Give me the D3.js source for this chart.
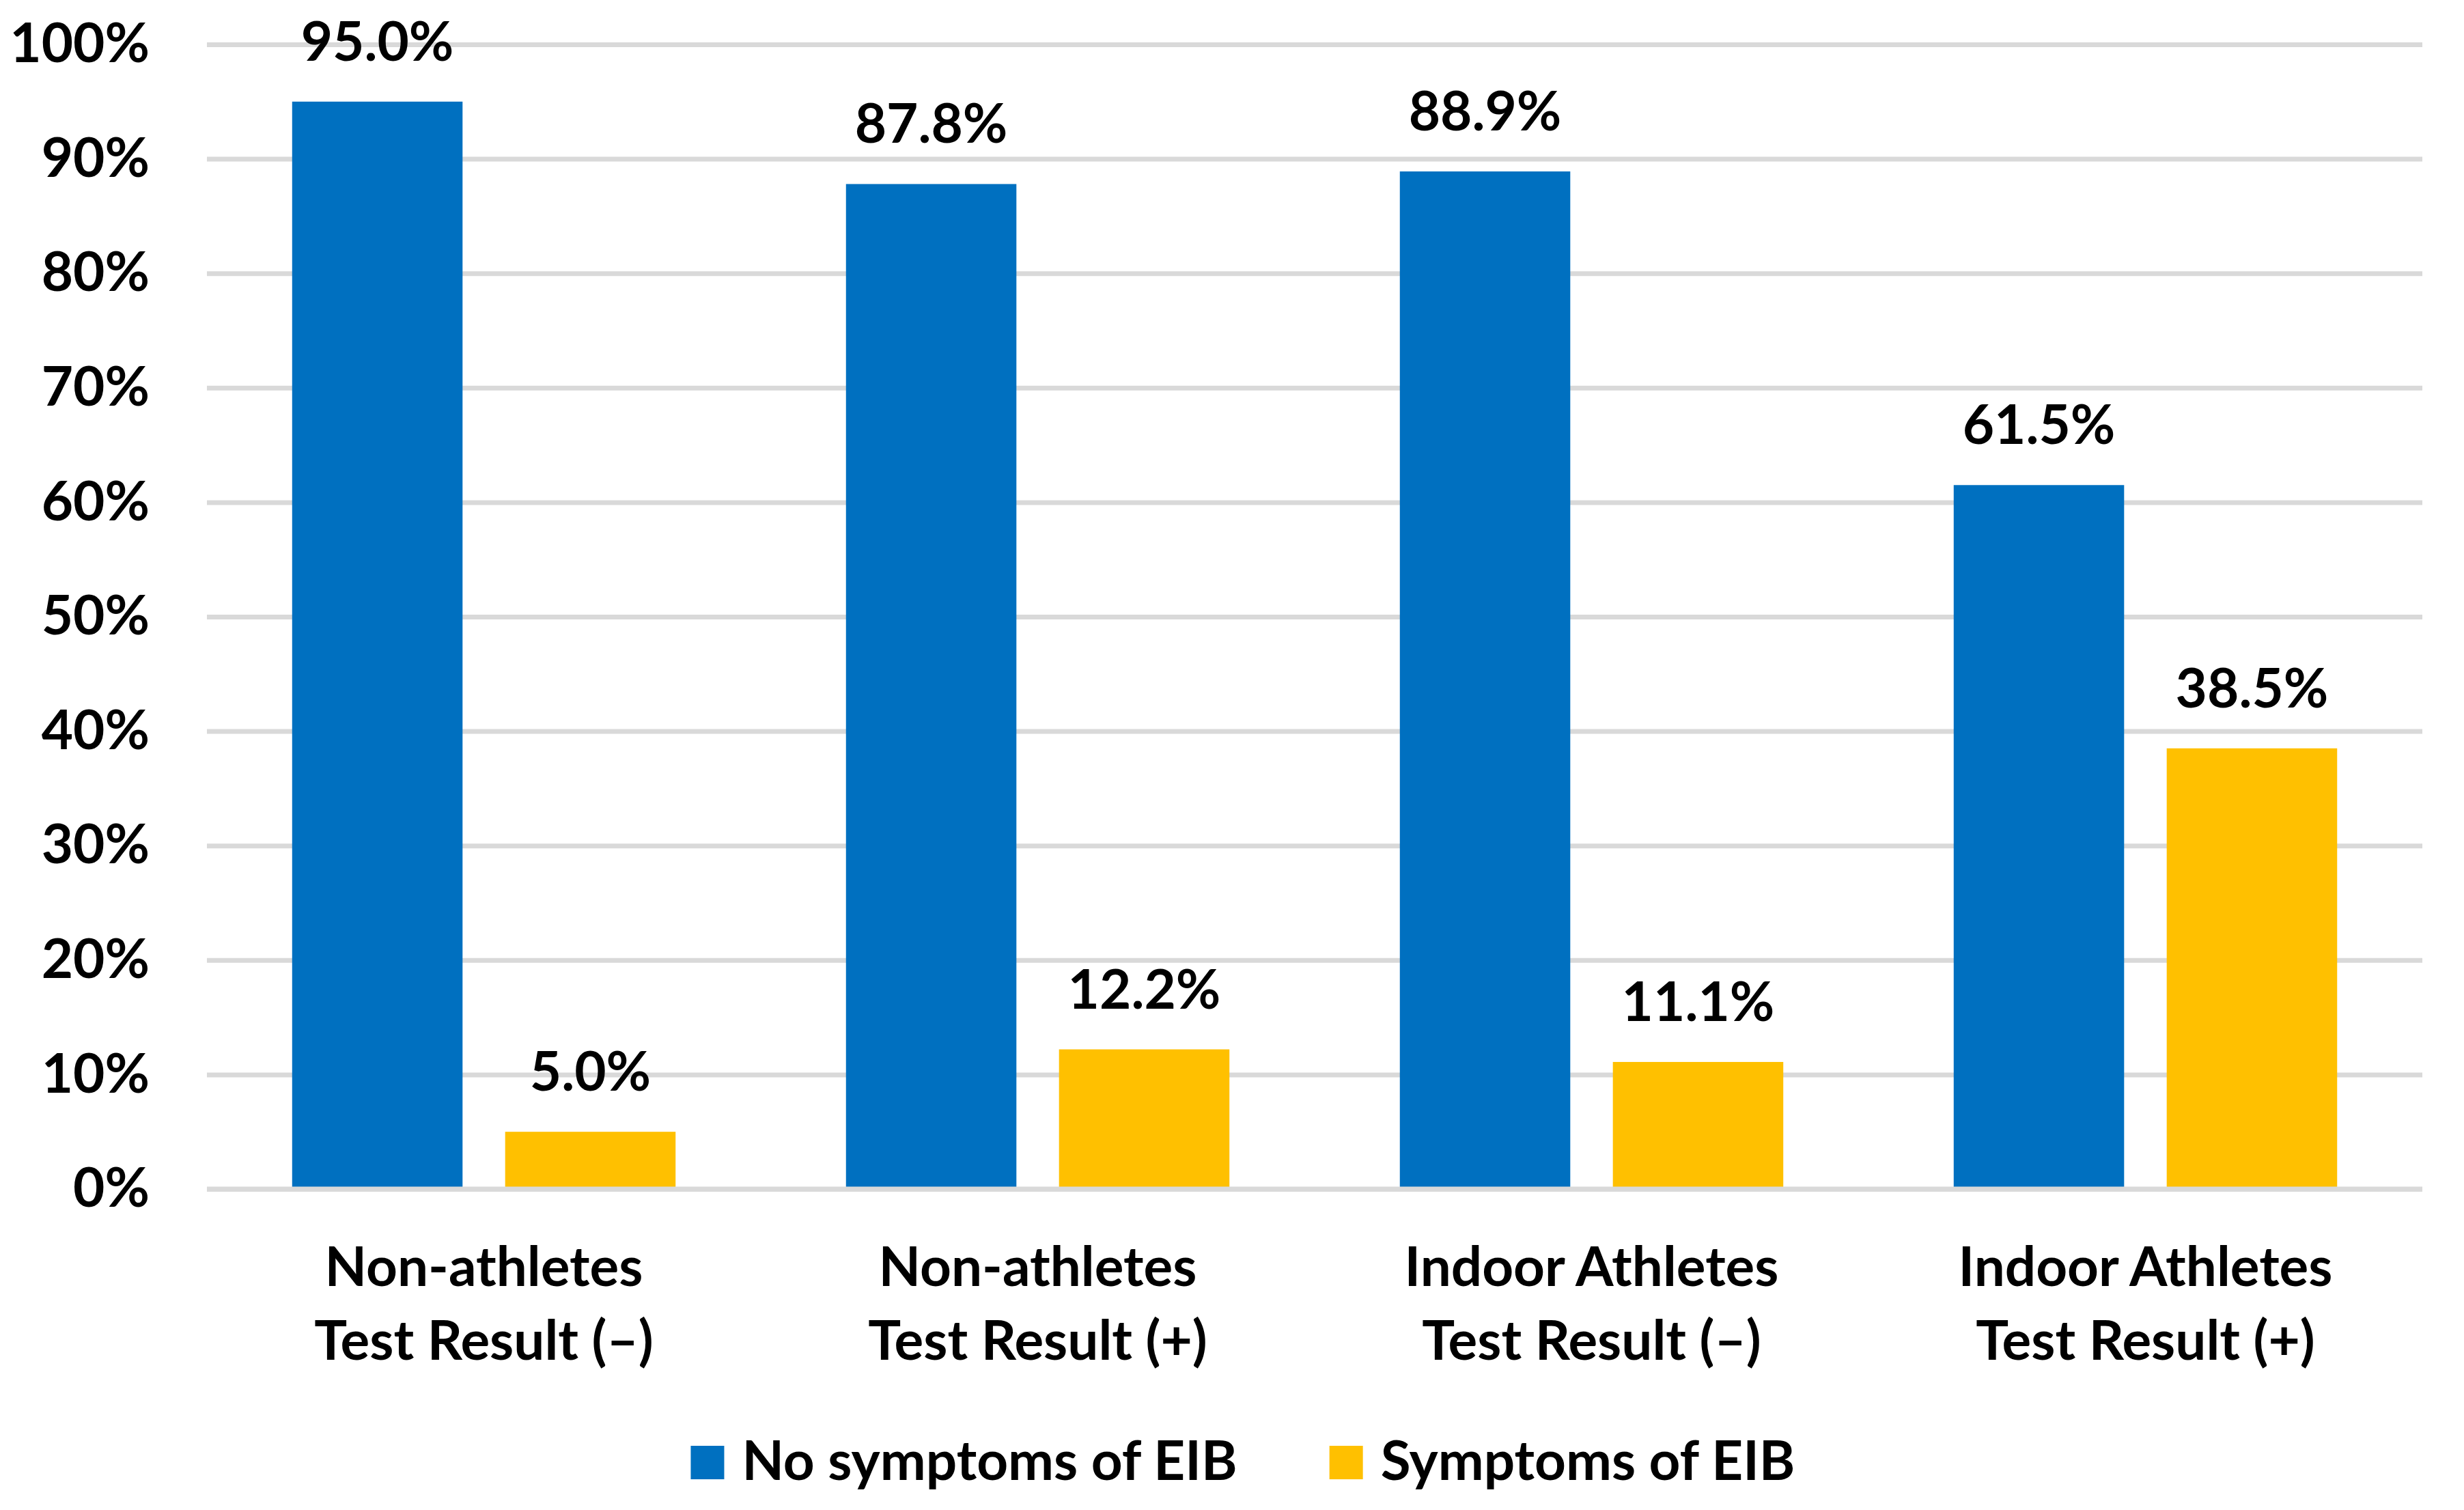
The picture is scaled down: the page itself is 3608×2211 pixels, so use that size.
<!DOCTYPE html>
<html>
<head>
<meta charset="utf-8">
<script src="https://cdn.jsdelivr.net/npm/d3@7"></script>
<style>
  body { margin: 0; background: #fff; }
  text { font-family: Lato, "Noto Sans", sans-serif; font-weight: bold; fill: #000; }
</style>
</head>
<body>
<svg id="chart"></svg>
<script>
// category tick labels (two lines each)
const categories = [
    ["Non-athletes", "Test Result (–)"],
    ["Non-athletes", "Test Result (+)"],
    ["Indoor Athletes", "Test Result (–)"],
    ["Indoor Athletes", "Test Result (+)"]
];
const seriesNames = ["No symptoms of EIB", "Symptoms of EIB"];
const noSymptoms = [95.0, 87.8, 88.9, 61.5];
const symptoms = [5.0, 12.2, 11.1, 38.5];
const yTicks = [0, 10, 20, 30, 40, 50, 60, 70, 80, 90, 100];
const colors = ["#0070C0", "#FFC000"];

function drawChart() {
    const W = 3608, H = 2211;
    const margin = { top: 65, right: 61, bottom: 470, left: 303 },
        w = W - margin.left - margin.right,
        h = H - margin.top - margin.bottom;
    const fontSize = 80;

    const svg = d3.select("#chart")
        .attr("width", W)
        .attr("height", H);

    const g = svg.append("g")
        .attr("transform", "translate(" + margin.left + "," + margin.top + ")");

    // build rows from the arrays
    const rows = categories.map((c, i) => ({
        key: c.join(" "),
        lines: c,
        values: [noSymptoms[i], symptoms[i]]
    }));

    const x0 = d3.scaleBand()
        .domain(rows.map(d => d.key))
        .range([0, w]);

    const x1 = d3.scaleBand()
        .domain(seriesNames)
        .range([0, x0.bandwidth()])
        .paddingInner(0.2)
        .paddingOuter(0.4);

    const yScale = d3.scaleLinear().domain([0, 100]).range([h, 0]);

    // y axis with gridlines
    const yAxis = d3.axisLeft(yScale)
        .tickValues(yTicks)
        .tickSize(-w)
        .tickPadding(84)
        .tickFormat(d => d + "%");

    const gY = g.append("g")
        .attr("class", "axis y-axis")
        .call(yAxis);
    gY.select(".domain").remove();
    gY.selectAll(".tick line")
        .attr("stroke", "#D9D9D9")
        .attr("stroke-width", 7);
    gY.selectAll(".tick text")
        .style("font-size", fontSize + "px")
        .attr("fill", "#000");

    // bars
    const groups = g.selectAll(".group")
        .data(rows)
        .enter()
        .append("g")
        .attr("class", "group")
        .attr("transform", d => "translate(" + x0(d.key) + ",0)");

    groups.selectAll("rect")
        .data(d => d.values.map((v, j) => ({ name: seriesNames[j], value: v, j: j })))
        .enter()
        .append("rect")
        .attr("x", d => x1(d.name))
        .attr("y", d => yScale(d.value))
        .attr("width", x1.bandwidth())
        .attr("height", d => h - yScale(d.value))
        .attr("fill", d => colors[d.j]);

    // value labels
    groups.selectAll(".val")
        .data(d => d.values.map((v, j) => ({ name: seriesNames[j], value: v })))
        .enter()
        .append("text")
        .attr("class", "val")
        .attr("x", d => x1(d.name) + x1.bandwidth() / 2)
        .attr("y", d => yScale(d.value) - 60)
        .attr("text-anchor", "middle")
        .style("font-size", fontSize + "px")
        .text(d => d.value.toFixed(1) + "%");

    // zero line drawn over bar bottoms
    g.append("line")
        .attr("x1", 0).attr("x2", w)
        .attr("y1", yScale(0)).attr("y2", yScale(0))
        .attr("stroke", "#D9D9D9")
        .attr("stroke-width", 7);

    // category labels
    const cat = g.selectAll(".cat")
        .data(rows)
        .enter()
        .append("text")
        .attr("class", "cat")
        .attr("text-anchor", "middle")
        .style("font-size", fontSize + "px");
    cat.selectAll("tspan")
        .data(d => d.lines.map(l => ({ l: l, cx: x0(d.key) + x0.bandwidth() / 2 })))
        .enter()
        .append("tspan")
        .attr("x", d => d.cx)
        .attr("y", (d, i) => h + 142 + i * 108)
        .text(d => d.l);

    // legend
    const legend = svg.append("g").attr("class", "legend");
    const items = legend.selectAll(".item")
        .data(seriesNames)
        .enter()
        .append("g")
        .attr("class", "item");
    items.append("rect")
        .attr("width", 49)
        .attr("height", 49)
        .attr("y", -50)
        .attr("fill", (d, i) => colors[i]);
    items.append("text")
        .attr("x", 75)
        .style("font-size", fontSize + "px")
        .text(d => d);

    let offset = 0;
    const widths = [];
    items.each(function () {
        widths.push(75 + this.querySelector("text").getComputedTextLength());
    });
    const total = d3.sum(widths) + 135 * (widths.length - 1);
    const start = 1820 - total / 2;
    items.attr("transform", (d, i) => {
        const tx = start + offset;
        offset += widths[i] + 135;
        return "translate(" + tx + ",2167)";
    });
}

drawChart()
</script>
</body>
</html>
